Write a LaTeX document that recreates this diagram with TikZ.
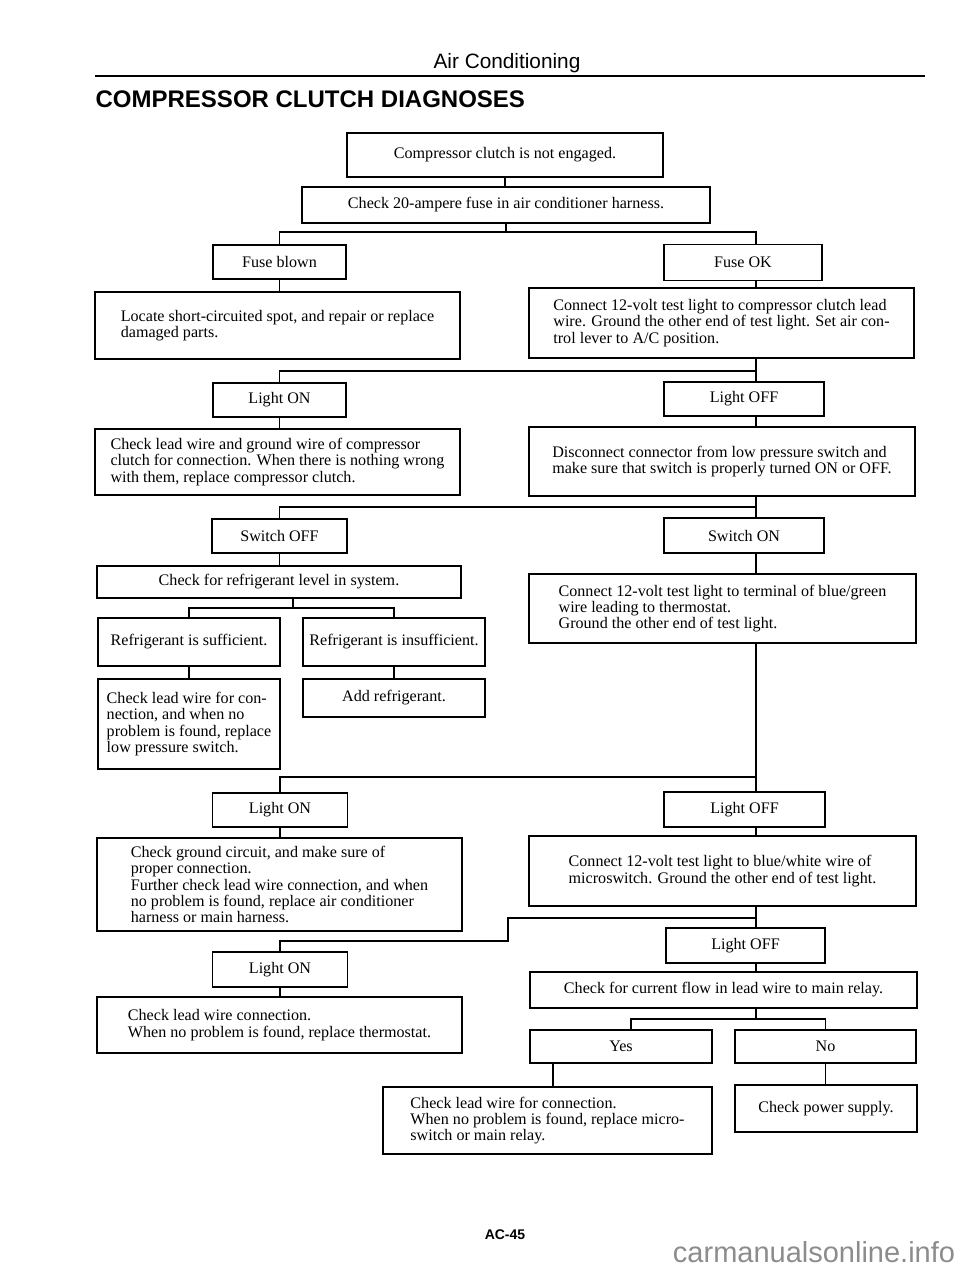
\documentclass[tikz,border=0pt]{standalone}
\usepackage{fontspec}
\setmainfont{Liberation Serif}
\newfontfamily\headfont{Liberation Sans}
\definecolor{wmgray}{RGB}{140,140,140}

\begin{document}
\begin{tikzpicture}[x=1pt,y=-1pt,line width=1.3pt,
  diag/.style 2 args={draw,inner sep=0pt,align=left,minimum width=#1,minimum height=#2,
    font=\fontsize{16.1}{16.3}\selectfont}]
  \useasboundingbox (0,0) rectangle (960,1271);
  \node[anchor=base,font=\headfont\fontsize{20.8}{24}\selectfont] (sect) at (507,69) {Air Conditioning};
  \draw[line width=2.2pt] (95,76) -- (925,76);
  \node[anchor=base west,inner sep=0pt,font=\headfont\bfseries\fontsize{24}{28}\selectfont] (title) at (95,108) {COMPRESSOR CLUTCH DIAGNOSES};

  \node[diag={316}{44},line width=2.4pt] (start) at (505,155) {Compressor clutch is not engaged.};
  \node[diag={408}{36}] (chk20) at (506,205) {Check 20-ampere fuse in air conditioner harness.};
  \node[diag={133}{34}] (fblown) at (279.5,262) {Fuse blown};
  \node[diag={158}{36}] (fok) at (743,262.5) {Fuse OK};
  \node[diag={365}{67}] (locate) at (277.5,325.5) {Locate short-circuited spot, and repair or replace\\damaged parts.};
  \node[diag={385}{70}] (conn1) at (721.5,323) {Connect 12-volt test light to compressor clutch lead\\wire. Ground the other end of test light. Set air con-\\trol lever to A/C position.};
  \node[diag={133}{34}] (lon1) at (279.5,400) {Light ON};
  \node[diag={160}{34}] (loff1) at (744,399) {Light OFF};
  \node[diag={365}{66}] (chkgw) at (277.5,462) {Check lead wire and ground wire of compressor\\clutch for connection. When there is nothing wrong\\with them, replace compressor clutch.};
  \node[diag={386}{69}] (disc) at (722,461.5) {Disconnect connector from low pressure switch and\\make sure that switch is properly turned ON or OFF.};
  \node[diag={135}{34}] (soff) at (279.5,536) {Switch OFF};
  \node[diag={160}{35}] (son) at (744,535.5) {Switch ON};
  \node[diag={364}{32}] (refr) at (279,582) {Check for refrigerant level in system.};
  \node[diag={387}{69}] (conn2) at (722.5,608.5) {Connect 12-volt test light to terminal of blue/green\\wire leading to thermostat.\\Ground the other end of test light.};
  \node[diag={182}{48}] (suff) at (189,642) {Refrigerant is sufficient.};
  \node[diag={182}{48}] (insuf) at (394,642) {Refrigerant is insufficient.};
  \node[diag={182}{90}] (chklw) at (189,724) {Check lead wire for con-\\nection, and when no\\problem is found, replace\\low pressure switch.};
  \node[diag={182}{38}] (addr) at (394,698) {Add refrigerant.};
  \node[diag={135}{34}] (lon3) at (280,810) {Light ON};
  \node[diag={161}{35}] (loff3) at (744.5,809.5) {Light OFF};
  \node[diag={365}{93}] (cgc) at (279.5,884.5) {Check ground circuit, and make sure of\\proper connection.\\Further check lead wire connection, and when\\no problem is found, replace air conditioner\\harness or main harness.};
  \node[diag={387}{70}] (conn3) at (722.5,871) {Connect 12-volt test light to blue/white wire of\\microswitch. Ground the other end of test light.};
  \node[diag={159}{35}] (loff4) at (745.5,945.5) {Light OFF};
  \node[diag={135}{35}] (lon4) at (280,969.5) {Light ON};
  \node[diag={387}{36}] (curr) at (723.5,990) {Check for current flow in lead wire to main relay.};
  \node[diag={365}{56}] (cwt) at (279.5,1025) {Check lead wire connection.\\When no problem is found, replace thermostat.};
  \node[diag={182}{33}] (yes) at (621,1046.5) {Yes};
  \node[diag={181}{33}] (no) at (825.5,1046.5) {No};
  \node[diag={329}{67}] (chkm) at (547.5,1120.5) {Check lead wire for connection.\\When no problem is found, replace micro-\\switch or main relay.};
  \node[diag={182}{47}] (cps) at (826,1108.5) {Check power supply.};

  \node[font=\headfont\bfseries\fontsize{14}{16}\selectfont] (pgno) at (505,1235) {AC-45};
  \node[anchor=base west,text=wmgray,font=\headfont\fontsize{29}{32}\selectfont] (wmark) at (669,1262) {carmanualsonline.info};

  \coordinate (rc) at (756,0);
  \coordinate (rf) at (293,0);
  \coordinate (jg) at (508,0);
  \coordinate (yf) at (631,0);
  \coordinate (yd) at (553,0);
  \coordinate (f1) at (0,232);
  \coordinate (f2) at (0,371);
  \coordinate (f3) at (0,507);
  \coordinate (f4) at (0,608);
  \coordinate (f5) at (0,777);
  \coordinate (f6) at (0,918);
  \coordinate (f7) at (0,941);
  \coordinate (f8) at (0,1019);

  \draw (start.south) -- (start.south |- chk20.north);
  \draw (chk20.south) -- (chk20.south |- f1);
  \draw (fblown.north) |- (f1 -| rc) -- (fok.north -| rc);
  \draw (fblown.south) -- (fblown.south |- locate.north);
  \draw (fok.south -| rc) -- (conn1.north -| rc);
  \draw (conn1.south -| rc) -- (loff1.north -| rc);
  \draw (lon1.north) |- (f2 -| rc);
  \draw (lon1.south) -- (lon1.south |- chkgw.north);
  \draw (loff1.south -| rc) -- (disc.north -| rc);
  \draw (disc.south -| rc) -- (son.north -| rc);
  \draw (soff.north) |- (f3 -| rc);
  \draw (soff.south) -- (soff.south |- refr.north);
  \draw (son.south -| rc) -- (conn2.north -| rc);
  \draw (refr.south -| rf) -- (f4 -| rf);
  \draw (suff.north) |- (f4 -| insuf.north) -- (insuf.north);
  \draw (suff.south) -- (chklw.north);
  \draw (insuf.south) -- (addr.north);
  \draw (conn2.south -| rc) -- (loff3.north -| rc);
  \draw (lon3.north) |- (f5 -| rc);
  \draw (lon3.south) -- (lon3.south |- cgc.north);
  \draw (loff3.south -| rc) -- (conn3.north -| rc);
  \draw (conn3.south -| rc) -- (loff4.north -| rc);
  \draw (lon4.north) |- (f7 -| jg) |- (f6 -| rc);
  \draw (lon4.south) -- (lon4.south |- cwt.north);
  \draw (loff4.south -| rc) -- (curr.north -| rc);
  \draw (curr.south -| rc) -- (f8 -| rc);
  \draw (yes.north -| yf) |- (f8 -| no.north) -- (no.north);
  \draw (yes.south -| yd) -- (chkm.north -| yd);
  \draw (no.south) -- (no.south |- cps.north);
\end{tikzpicture}
\end{document}
